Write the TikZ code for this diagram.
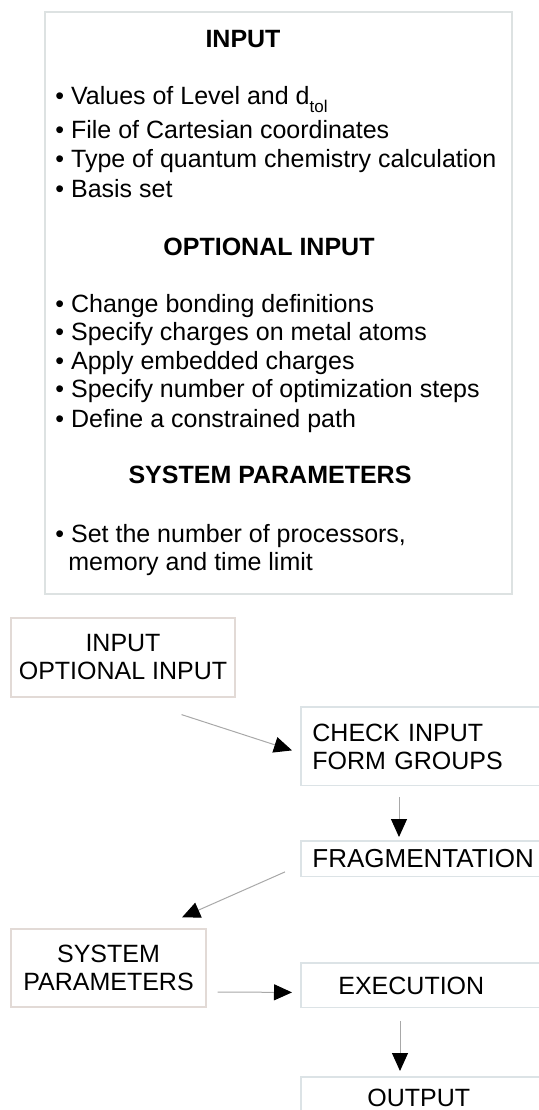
\documentclass[tikz,border=0pt]{standalone}
\usepackage{fontspec}
\setmainfont{Liberation Sans}
\usetikzlibrary{calc, positioning, arrows.meta}

\definecolor{framegrey}{HTML}{DDE2E2}
\definecolor{leftgrey}{HTML}{E2DAD6}
\definecolor{rightgrey}{HTML}{DCE3E6}
\definecolor{linegrey}{HTML}{A8A8A8}

\newcommand{\flowfont}{\fontsize{12.5}{14}\selectfont}

\tikzset{
  heading/.style={anchor=base, inner sep=0pt, font=\flowfont\bfseries},
  item/.style={anchor=base west, inner sep=0pt},
  leftbox/.style={draw=leftgrey, line width=0.6pt, inner sep=0pt, align=center},
  rightbox/.style={anchor=north west, minimum width=160pt, text width=149pt,
    inner xsep=5.5pt, inner ysep=0pt, align=left},
  flow/.style={draw=linegrey, line width=0.5pt,
    -{Triangle[length=9pt, width=8pt, color=black]}},
}

\begin{document}
\begin{tikzpicture}[x=0.5pt, y=-0.5pt, font=\flowfont]
  \useasboundingbox (0,0) rectangle (539,1110);

  % list of settings
  \draw [framegrey, line width=0.8pt] (45,12) rectangle (512,594);
  \node [heading] (hin) at (243,47) {INPUT};
  \node [item] (in1) at (55,104) {• Values of Level and d\raisebox{-4pt}{\fontsize{8.5}{8.5}\selectfont tol}};
  \node [item] (in2) at (55,138) {• File of Cartesian coordinates};
  \node [item] (in3) at (55,167) {• Type of quantum chemistry calculation};
  \node [item] (in4) at (55,197) {• Basis set};
  \node [heading] (hopt) at (269,255) {OPTIONAL INPUT};
  \node [item] (op1) at (55,312) {• Change bonding definitions};
  \node [item] (op2) at (55,340) {• Specify charges on metal atoms};
  \node [item] (op3) at (55,369) {• Apply embedded charges};
  \node [item] (op4) at (55,397) {• Specify number of optimization steps};
  \node [item] (op5) at (55,427) {• Define a constrained path};
  \node [heading] (hsys) at (270,483) {SYSTEM PARAMETERS};
  \node [item] (sy1) at (55,542) {• Set the number of processors,};
  \node [item] (sy2) at (68,570) {memory and time limit};

  % flow of the run
  \node [leftbox, minimum width=112pt, minimum height=39.5pt] (inp) at (123,657.5) {INPUT\\OPTIONAL INPUT};
  \node [rightbox, minimum height=39pt] (chk) at (301,707) {CHECK INPUT\\FORM GROUPS};
  \node [rightbox, minimum height=17.5pt] (frag) at (301,841) {\fontsize{13}{14}\selectfont FRAGMENTATION};
  \node [leftbox, minimum width=97.5pt, minimum height=39pt] (sys) at (108.5,968) {SYSTEM\\PARAMETERS};
  \node [rightbox, minimum height=22pt] (exe) at (301,963) {\hspace*{13pt}EXECUTION};
  \node [rightbox, minimum height=20pt] (out) at (301,1077) {\hspace*{27.5pt}OUTPUT};

  % right column boxes are open to the right
  \foreach \b in {chk, frag, exe, out}
    \draw [rightgrey, line width=0.6pt] (\b.north west -| 539,0) -- (\b.north west) -- (\b.south west) -- (\b.south west -| 539,0);

  \draw [flow] ($(inp.south east)+(-54,17)$) -- ($(chk.west)+(-9,4)$);
  \draw [flow] ($(chk.south west)+(98,11)$) -- ($(frag.north west)+(98,-4)$);
  \draw [flow] ($(frag.west)+(-16,13)$) -- ($(sys.north)+(73.5,-11)$);
  \draw [flow] ($(sys.east)+(11,24)$) -- ($(exe.west)+(-9,7)$);
  \draw [flow] ($(exe.south west)+(99,13)$) -- ($(out.north west)+(99,-6)$);
\end{tikzpicture}
\end{document}
